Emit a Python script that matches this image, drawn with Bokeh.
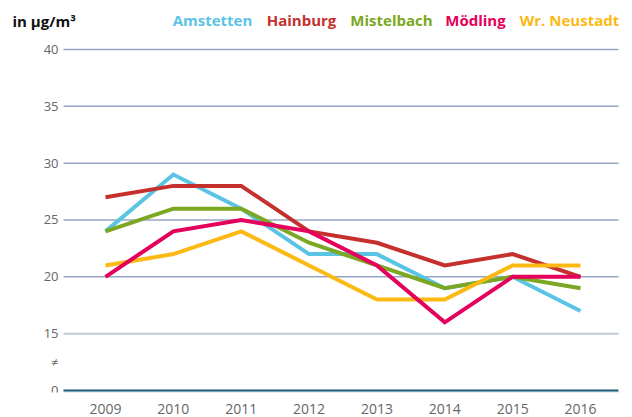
from bokeh.plotting import figure
from bokeh.models import Range1d, FixedTicker
from bokeh.core.properties import value
from bokeh.embed import file_html
from bokeh.resources import INLINE

years = [2009, 2010, 2011, 2012, 2013, 2014, 2015, 2016]
amstetten = [24, 29, 26, 22, 22, 19, 20, 17]
hainburg = [27, 28, 28, 24, 23, 21, 22, 20]
mistelbach = [24, 26, 26, 23, 21, 19, 20, 19]
moedling = [20, 24, 25, 24, 21, 16, 20, 20]
wr_neustadt = [21, 22, 24, 21, 18, 18, 21, 21]

names = ["Amstetten", "Hainburg", "Mistelbach", "Mödling", "Wr. Neustadt"]
colors = ["#5bc4e5", "#c5302c", "#7ba722", "#e4005b", "#fdb913"]
series = [amstetten, hainburg, mistelbach, moedling, wr_neustadt]

y_ticks = [0, 15, 20, 25, 30, 35, 40]
y_labels = ["0", "15", "20", "25", "30", "35", "40"]
BREAK = 10  # values >= 15 are shifted down by this amount (axis break)


def ty(v):
    return v - BREAK if v >= 15 else v * 0


FONT = "Open Sans"
PXX = 67.857   # px per year
PXY = 11.367   # px per unit


def dx(px):  # screen x -> data x
    return 2009 + (px - 105) / PXX


def dy(py):  # screen y -> data y
    return (390 - py) / PXY


W, H = 632, 417
BOTTOM = 392
p = figure(width=W, height=H, output_backend="svg", toolbar_location=None,
           x_range=Range1d(dx(0), dx(W)), y_range=Range1d(dy(BOTTOM), dy(0)),
           min_border_left=0, min_border_right=0, min_border_top=0,
           min_border_bottom=H - BOTTOM)
p.outline_line_color = None
p.background_fill_color = "white"
p.border_fill_color = "white"
p.grid.visible = False
p.yaxis.visible = False

p.xaxis.ticker = FixedTicker(ticks=years)
p.xaxis.axis_line_color = None
p.xaxis.major_tick_line_color = None
p.xaxis.minor_tick_line_color = None
p.xaxis.major_label_standoff = 5
p.xaxis.major_label_text_font = FONT
p.xaxis.major_label_text_font_size = "14px"
p.xaxis.major_label_text_color = "#666666"

gx0, gx1 = dx(63), dx(618)
grid_vals = [ty(t) for t in y_ticks[2:]]
p.segment(x0=[gx0] * len(grid_vals), x1=[gx1] * len(grid_vals), y0=grid_vals, y1=grid_vals,
          line_color="#94a6c2", line_width=1.5)
p.segment(x0=[gx0], x1=[gx1], y0=[ty(15)], y1=[ty(15)], line_color="#bfc9d8", line_width=2)
p.segment(x0=[gx0], x1=[gx1], y0=[-1.6 / PXY], y1=[-1.6 / PXY], line_color="#b8c8d8", line_width=1)
p.segment(x0=[gx0], x1=[gx1], y0=[0], y1=[0], line_color="#1d5b7b", line_width=2)

# y tick labels incl. axis-break sign
lab_y = [ty(t) if t else 0 for t in y_ticks] + [2.5]
lab_t = y_labels + ["≠"]
p.text(x=[dx(58)] * len(lab_y), y=lab_y, text=lab_t, text_align="right", text_baseline="middle",
       text_font=value(FONT), text_font_size="13px", text_color="#666666")

order = [0, 2, 1, 4, 3]
for i in order:
    p.line(years, [ty(v) for v in series[i]], line_color=colors[i], line_width=4,
           line_join="miter", line_cap="butt")

# legend as coloured texts
legend_px = [212, 301, 391, 475, 569]
p.text(x=[dx(px) for px in legend_px], y=[dy(19)] * 5, text=names, text_color=colors,
       text_font=value(FONT), text_font_style="bold", text_font_size="15px",
       text_align="center", text_baseline="middle")

p.text(x=[dx(12)], y=[dy(20)], text=["in µg/m³"], text_color="#111111",
       text_font=value(FONT), text_font_style="bold", text_font_size="15px",
       text_align="left", text_baseline="middle")

open("out.html", "w").write(file_html(p, INLINE))
